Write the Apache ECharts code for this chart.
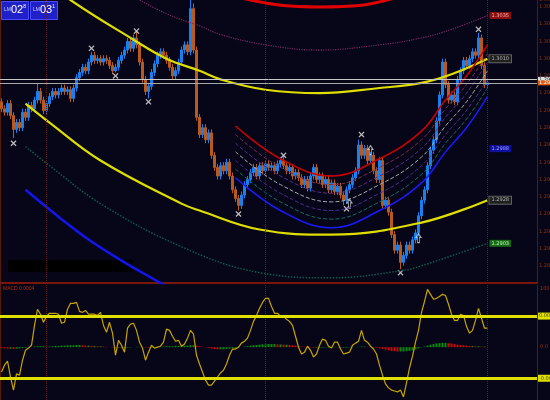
<!DOCTYPE html>
<html>
<head>
<meta charset="utf-8">
<title>EURUSD regression channels</title>
<script src="https://cdn.jsdelivr.net/npm/echarts@6.0.0/dist/echarts.min.js"></script>
<style>
  html, body { margin: 0; padding: 0; background: #060618; }
  #chart { width: 550px; height: 400px; }
</style>
</head>
<body>
<div id="chart"></div>
<script>
// prices are kept in pips (12985 -> 1.2985)
// [open, close, low, high]
const candles = [
  [12985,12981,12979,12987],[12981,12979,12977,12983],[12979,12984,12977,12986],[12984,12977,12975,12986],
  [12977,12969,12964,12979],[12969,12973,12967,12975],[12973,12970,12968,12975],[12970,12979,12968,12981],
  [12979,12976,12974,12981],[12976,12983,12974,12985],[12983,12981,12979,12985],[12981,12986,12979,12988],
  [12986,12991,12984,12996],[12991,12986,12984,12993],[12986,12980,12978,12988],[12980,12984,12978,12986],
  [12984,12988,12982,12990],[12988,12991,12986,12993],[12991,12989,12987,12993],[12989,12991,12987,12993],
  [12991,12993,12989,12995],[12993,12991,12989,12995],[12991,12992,12989,12994],[12992,12987,12985,12994],
  [12987,12993,12985,12995],[12993,12999,12991,13001],[12999,13002,12997,13004],[13002,13005,13000,13007],
  [13005,13003,13001,13007],[13003,13008,13001,13010],[13008,13012,13006,13014],[13012,13009,13007,13014],
  [13009,13010,13007,13012],[13010,13008,13006,13012],[13008,13010,13006,13012],[13010,13009,13007,13012],
  [13009,13006,13004,13011],[13006,13003,13001,13008],[13003,13005,13002,13007],[13005,13009,13003,13011],
  [13009,13012,13007,13014],[13012,13015,13010,13017],[13015,13020,13013,13022],[13020,13016,13014,13022],
  [13016,13022,13014,13024],[13022,13018,13016,13026],[13018,13008,13006,13020],[13008,12998,12996,13010],
  [12998,12991,12989,13000],[12991,12994,12987,12996],[12994,13002,12992,13004],[13002,13007,13000,13009],
  [13007,13012,13005,13014],[13012,13014,13010,13016],[13014,13012,13010,13016],[13012,13009,13007,13014],
  [13009,13005,13003,13011],[13005,13000,12998,13007],[13000,13003,12998,13005],[13003,13008,13001,13010],
  [13008,13015,13006,13017],[13015,13018,13013,13020],[13018,13014,13012,13020],[13014,13039,13012,13044],
  [13039,13015,13013,13042],[13015,12976,12974,13017],[12976,12966,12964,12978],[12966,12970,12964,12972],
  [12970,12963,12961,12972],[12963,12967,12961,12969],[12967,12954,12952,12969],[12954,12947,12945,12956],
  [12947,12942,12940,12949],[12942,12948,12940,12950],[12948,12945,12943,12950],[12945,12950,12943,12952],
  [12950,12942,12940,12952],[12942,12934,12932,12944],[12934,12929,12927,12936],[12929,12925,12922,12931],
  [12925,12931,12923,12933],[12931,12937,12929,12939],[12937,12940,12935,12942],[12940,12944,12938,12946],
  [12944,12947,12942,12949],[12947,12942,12940,12949],[12942,12948,12940,12950],[12948,12945,12943,12950],
  [12945,12949,12943,12951],[12949,12947,12945,12951],[12947,12948,12945,12950],[12948,12945,12943,12950],
  [12945,12949,12943,12951],[12949,12951,12947,12953],[12951,12948,12946,12954],[12948,12945,12943,12950],
  [12945,12947,12943,12949],[12947,12942,12940,12949],[12942,12944,12940,12946],[12944,12941,12939,12946],
  [12941,12937,12935,12943],[12937,12940,12935,12942],[12940,12935,12933,12942],[12935,12942,12933,12944],
  [12942,12947,12940,12949],[12947,12940,12938,12949],[12940,12942,12938,12944],[12942,12937,12935,12944],
  [12937,12940,12935,12942],[12940,12934,12932,12942],[12934,12938,12932,12940],[12938,12933,12931,12940],
  [12933,12936,12931,12938],[12936,12931,12929,12938],[12931,12928,12925,12933],[12928,12934,12926,12936],
  [12934,12937,12932,12939],[12937,12941,12935,12943],[12941,12945,12939,12947],[12945,12960,12943,12963],
  [12960,12954,12952,12962],[12954,12958,12952,12960],[12958,12951,12949,12960],[12951,12954,12949,12956],
  [12954,12945,12943,12956],[12945,12940,12938,12947],[12940,12951,12938,12953],[12951,12925,12923,12953],
  [12925,12928,12923,12930],[12928,12921,12919,12930],[12921,12908,12906,12923],[12908,12899,12897,12910],
  [12899,12902,12897,12904],[12902,12892,12888,12904],[12892,12896,12890,12898],[12896,12902,12894,12904],
  [12902,12899,12897,12904],[12899,12905,12897,12907],[12905,12909,12903,12911],[12909,12919,12907,12921],
  [12919,12928,12917,12930],[12928,12934,12926,12936],[12934,12948,12932,12950],[12948,12957,12946,12959],
  [12957,12963,12955,12965],[12963,12974,12961,12976],[12974,12989,12972,12991],[12989,13008,12987,13010],
  [13008,12995,12993,13010],[12995,12986,12984,12997],[12986,12989,12984,12991],[12989,12985,12983,12991],
  [12985,12998,12983,13000],[12998,13003,12996,13005],[13003,13009,13001,13011],[13009,13006,13004,13011],
  [13006,13010,13004,13012],[13010,13014,13008,13016],[13014,13012,13010,13016],[13012,13022,13010,13025],
  [13022,13006,13004,13024],[13006,12995,12993,13008],[12995,12996,12993,12998]
];

// oscillator (lower panel), levels at +/-100
const oscValues = [
  -80,-58,-45,-96,-138,-86,-90,-42,-10,-3,6,70,122,106,80,99,109,109,109,106,
  77,80,122,141,141,144,115,112,118,106,106,106,102,112,70,48,80,45,-26,22,
  6,-16,61,74,77,54,16,-3,-42,-16,6,-3,0,3,16,58,54,35,19,22,
  3,10,29,54,42,-26,-54,-80,-106,-122,-122,-109,-96,-83,-74,-54,-26,-6,-6,0,
  13,19,29,54,83,102,125,144,157,157,131,109,109,99,99,90,83,70,35,0,
  -22,-16,3,-10,-32,-22,6,26,22,3,-3,16,16,-6,-22,-19,-16,6,13,19,
  54,22,16,3,-6,-22,-58,-90,-118,-131,-138,-141,-144,-138,-160,-115,-67,-29,16,54,
  112,147,186,170,154,157,163,170,166,138,106,86,86,106,102,67,45,54,86,125,
  93,61,61
];

const histValues = [
  -3,-4,-5,-5,-6,-5,-4,-3,-2,-1,0,2,3,3,3,2,2,3,4,4,
  5,5,6,6,6,7,7,6,5,5,4,4,3,3,2,1,0,-1,-2,-2,
  -3,-3,-2,-1,0,1,1,0,-1,-2,-2,-1,0,1,2,3,3,3,4,4,
  5,5,5,6,6,5,3,1,-1,-3,-5,-6,-7,-7,-7,-6,-5,-4,-3,-2,
  0,2,3,5,6,7,8,9,9,10,10,10,9,9,8,8,7,6,5,4,
  2,1,0,-1,-2,-2,-2,-2,-1,-1,-1,-1,-1,-2,-2,-2,-1,-1,0,1,
  2,2,1,0,-1,-2,-4,-6,-8,-10,-12,-13,-14,-14,-14,-13,-12,-10,-7,-4,
  -1,2,5,8,10,12,13,14,14,13,12,10,8,7,6,5,4,4,3,3,
  2,2,1
];

// regression curves, [bar, price]
const upperYellow = [[18,13052],[23,13044],[44,13021],[55,13010],[66,13003],[73,12998],[88,12992],[106,12990],[126,12993],[140,12996],[150,13001],[162,13010]];
const lowerYellow = [[8,12984],[16,12973],[33,12951],[60,12926],[66,12922],[86,12911],[110,12908],[140,12915],[162,12928]];
const lowerTeal = [[8,12959],[16,12948],[33,12926],[60,12901],[86,12886],[110,12883],[133,12887],[140,12890],[162,12903]];
const lowerBlue = [[8,12934],[20,12917],[30,12904],[40,12893],[52,12881],[57,12876]];
const upperPurple = [[44,13046],[55,13036],[66,13029],[73,13024],[88,13018],[106,13015],[126,13018],[140,13022],[150,13027],[162,13035]];
const topRed = [[76,13047],[83,13044],[93,13041],[106,13040],[120,13041],[133,13046],[140,13049]];

// short channel, bottom (blue) to top (red)
const shortBars = [78, 93, 110, 126, 140, 148, 155, 162];
const shortBlue   = [12941,12922,12912,12922,12938,12956,12970,12988];
const shortTeal   = [12946,12927,12917,12927,12943,12961,12975,12993];
const shortPurple = [12951,12932,12922,12932,12948,12966,12980,12998];
const shortGray   = [12956,12937,12927,12937,12953,12971,12985,13003];
const shortViolet = [12961,12942,12932,12942,12958,12976,12990,13008];
const shortPink   = [12966,12947,12937,12947,12963,12981,12995,13013];
const shortRed    = [12971,12952,12942,12952,12968,12986,13000,13018];

const xMarks = [[4,12961],[30,13016],[38,13000],[45,13026],[49,12985],[79,12920],[94,12954],[115,12923],[120,12966],[133,12886],[159,13027]];
const arrowMarks = [[116,12926],[123,12957],[139,12906]];
const priceLines = [12998, 12996];
const sessionBars = [15, 88, 162];
const oscLevels = [100, -100];

const slots = [];
for (let i = 0; i < 179; i++) slots.push(i);

const fmt = v => (v / 10000).toFixed(4);

function curve(data, color, width, type, endTag) {
  let s = {
    type: 'line', xAxisIndex: 0, yAxisIndex: 0, data: data,
    smooth: 0.4, showSymbol: false, silent: true,
    lineStyle: { color: color, width: width, type: type }
  };
  if (endTag) {
    s.endLabel = Object.assign({
      show: true, formatter: p => fmt(p.value[1]), fontSize: 5, padding: [1, 2], distance: 2
    }, endTag);
  }
  return s;
}

function shortLine(values, color, width, type, endTag) {
  return curve(shortBars.map((b, k) => [b, values[k]]), color, width, type, endTag);
}

let myChart = echarts.init(document.getElementById('chart'));

let option = {
  animation: false,
  backgroundColor: '#060618',
  textStyle: { fontFamily: 'DejaVu Sans' },
  grid: [
    { left: 0, right: 13, top: 0, height: 283, outerBoundsMode: 'none' },
    { left: 0, right: 13, top: 285, height: 115, outerBoundsMode: 'none' }
  ],
  xAxis: [
    {
      type: 'category', gridIndex: 0, data: slots,
      axisLine: { show: true, onZero: false, lineStyle: { color: '#7a1808', width: 2 } },
      axisTick: { show: false }, axisLabel: { show: false }, splitLine: { show: false }
    },
    {
      type: 'category', gridIndex: 1, data: slots, show: false
    }
  ],
  yAxis: [
    {
      type: 'value', gridIndex: 0, position: 'right',
      min: 12880, max: 13044, interval: 10,
      axisLine: { show: true, lineStyle: { color: '#5a1a0a' } },
      axisTick: { show: false }, splitLine: { show: false },
      axisLabel: {
        color: '#8a3414', fontSize: 5, margin: 2, showMinLabel: false,
        formatter: v => (v / 10000).toFixed(3)
      }
    },
    {
      type: 'value', gridIndex: 1, position: 'right',
      min: -170, max: 200,
      axisLine: { show: true, lineStyle: { color: '#5a1a0a' } },
      axisTick: { show: false }, splitLine: { show: false },
      axisLabel: {
        color: '#a03010', fontSize: 5, margin: 3,
        customValues: [0, 188],
        formatter: v => v === 0 ? '0.0' : '100'
      }
    }
  ],
  graphic: [
    { type: 'rect', left: 0, top: 0, shape: { width: 1, height: 400 }, style: { fill: '#5a1a0a' }, silent: true },
    { type: 'rect', left: 8, top: 260, shape: { width: 125, height: 12 }, style: { fill: '#000000' }, silent: true },
    { type: 'rect', left: 1, top: 1, shape: { width: 27, height: 18 }, style: { fill: '#2020c8', stroke: '#4a4aff', lineWidth: 1 }, silent: true },
    { type: 'rect', left: 30, top: 1, shape: { width: 27, height: 18 }, style: { fill: '#2020c8', stroke: '#4a4aff', lineWidth: 1 }, silent: true },
    {
      type: 'text', left: 4, top: 4, silent: true,
      style: {
        text: '{s|LM}{b|02}{t|8}',
        rich: {
          s: { fontSize: 5, fill: '#c8d0ff' },
          b: { fontSize: 11, fill: '#ffffff' },
          t: { fontSize: 5, fill: '#ffffff', verticalAlign: 'top' }
        }
      }
    },
    {
      type: 'text', left: 33, top: 4, silent: true,
      style: {
        text: '{s|LM}{b|03}{t|1}',
        rich: {
          s: { fontSize: 5, fill: '#c8d0ff' },
          b: { fontSize: 11, fill: '#ffffff' },
          t: { fontSize: 5, fill: '#ffffff', verticalAlign: 'top' }
        }
      }
    },
    { type: 'text', left: 3, top: 286, silent: true, style: { text: 'MACD 0.0004', fontSize: 5, fill: '#b02a10' } }
  ],
  series: [
    {
      type: 'candlestick', xAxisIndex: 0, yAxisIndex: 0, data: candles, barWidth: 2,
      itemStyle: { color: '#1a80f0', color0: '#b85a20', borderColor: '#1a80f0', borderColor0: '#b85a20', borderWidth: 1 },
      markLine: {
        silent: true, symbol: ['none', 'none'],
        data: [
          { xAxis: sessionBars[0], lineStyle: { color: '#6a1a10', type: 'dotted', width: 1 }, label: { show: false } },
          { xAxis: sessionBars[1], lineStyle: { color: '#6a1a10', type: 'dotted', width: 1 }, label: { show: false } },
          { xAxis: sessionBars[2], lineStyle: { color: '#6a1a10', type: 'dotted', width: 1 }, label: { show: false } },
          {
            yAxis: priceLines[0], lineStyle: { color: '#c8c8c8', type: 'solid', width: 1 },
            label: { show: true, position: 'end', distance: 1, formatter: p => fmt(p.value), fontSize: 5, padding: [0, 1], color: '#202020', backgroundColor: '#e0e0e0' }
          },
          {
            yAxis: priceLines[1], lineStyle: { color: '#a8a8a8', type: 'solid', width: 1 },
            label: { show: true, position: 'end', distance: 1, formatter: p => fmt(p.value), fontSize: 5, padding: [0, 1], color: '#ffffff', backgroundColor: '#e05a10' }
          }
        ]
      }
    },
    // long regression channel
    curve(topRed, '#e00000', 3, 'solid'),
    curve(upperPurple, '#7a2a62', 1.2, 'dotted', { backgroundColor: '#8a1010', color: '#ffb0b0' }),
    curve(upperYellow, '#dede00', 2.2, 'solid', { backgroundColor: '#202020', color: '#b0b0b0', borderColor: '#606060', borderWidth: 1 }),
    curve(lowerYellow, '#dede00', 2.2, 'solid', { backgroundColor: '#202020', color: '#b0b0b0', borderColor: '#606060', borderWidth: 1 }),
    curve(lowerTeal, '#0f5a4a', 1.5, 'dotted', { backgroundColor: '#1a6a1a', color: '#b0ffb0' }),
    curve(lowerBlue, '#1414ee', 2.5, 'solid'),
    // short channel
    shortLine(shortPink, '#7a2a50', 1, 'dashed'),
    shortLine(shortViolet, '#5a2a8a', 1, 'dashed'),
    shortLine(shortGray, '#a8a8a8', 1, 'dashed'),
    shortLine(shortPurple, '#4a2a8a', 1, 'dashed'),
    shortLine(shortTeal, '#107060', 1, 'dashed'),
    shortLine(shortRed, '#d00000', 1.5, 'solid'),
    shortLine(shortBlue, '#1a1aff', 1.5, 'solid', { backgroundColor: '#1010a0', color: '#a0a0ff', offset: [0, 52] }),
    {
      type: 'scatter', xAxisIndex: 0, yAxisIndex: 0, data: xMarks, silent: true,
      symbol: 'path://M0,1.5L1.5,0L5,3.5L8.5,0L10,1.5L6.5,5L10,8.5L8.5,10L5,6.5L1.5,10L0,8.5L3.5,5Z',
      symbolSize: 6, itemStyle: { color: '#e8e8e8' }
    },
    {
      type: 'scatter', xAxisIndex: 0, yAxisIndex: 0, data: arrowMarks, silent: true,
      symbol: 'path://M5,0L10,5L7,5L7,12L3,12L3,5L0,5Z',
      symbolSize: [5, 9], itemStyle: { color: 'transparent', borderColor: '#d8d8d8', borderWidth: 1 }
    },
    // lower panel
    {
      type: 'bar', xAxisIndex: 1, yAxisIndex: 1, data: histValues, barWidth: 2, silent: true,
      itemStyle: {
        color: p => (p.dataIndex > 0 && histValues[p.dataIndex] >= histValues[p.dataIndex - 1]) ? '#0a8a0a' : '#c80a0a'
      },
      markLine: {
        silent: true, symbol: ['none', 'none'], label: { show: false },
        lineStyle: { color: '#6a1a10', type: 'dotted', width: 1 },
        data: sessionBars.map(b => ({ xAxis: b }))
      }
    },
    {
      type: 'line', xAxisIndex: 1, yAxisIndex: 1, data: oscValues, silent: true,
      showSymbol: false, lineStyle: { color: '#c8a400', width: 1.2 },
      markLine: {
        silent: true, symbol: ['none', 'none'],
        lineStyle: { color: '#e0e000', type: 'solid', width: 3 },
        label: { show: true, position: 'end', distance: 1, fontSize: 5, padding: [1, 1], color: '#404000', backgroundColor: '#e0e000', formatter: p => (p.value / 100000).toFixed(4) },
        data: oscLevels.map(v => ({ yAxis: v }))
      }
    }
  ]
};

myChart.setOption(option);
</script>
</body>
</html>
